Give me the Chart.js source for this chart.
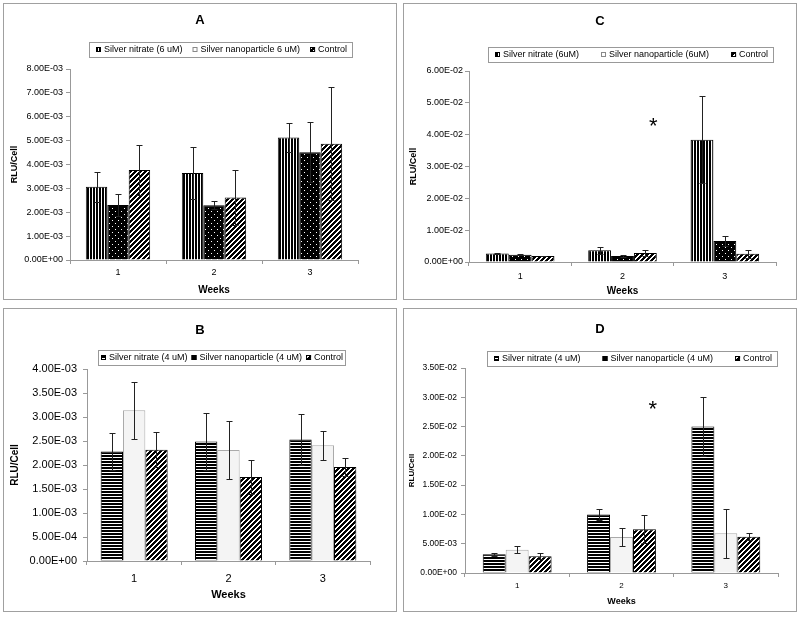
<!DOCTYPE html>
<html>
<head>
<meta charset="utf-8">
<script src="https://cdn.jsdelivr.net/npm/chart.js@4/dist/chart.umd.min.js"></script>
<style>
  body { margin: 0; background: #fff; width: 800px; height: 617px; position: relative; overflow: hidden; }
  canvas { position: absolute; }
</style>
</head>
<body>
<canvas id="pA" width="400" height="305" style="left:0;top:0"></canvas>
<canvas id="pC" width="400" height="305" style="left:400px;top:0"></canvas>
<canvas id="pB" width="400" height="312" style="left:0;top:305px"></canvas>
<canvas id="pD" width="400" height="312" style="left:400px;top:305px"></canvas>
<script>
const weeks = ['1', '2', '3'];

// A - 6 uM
const nitrateA = [3.07e-3, 3.64e-3, 5.13e-3];
const nitrateErrA = [0.63e-3, 1.09e-3, 0.60e-3];
const nanoA = [2.30e-3, 2.29e-3, 4.51e-3];
const nanoErrA = [0.46e-3, 0.17e-3, 1.25e-3];
const controlA = [3.77e-3, 2.62e-3, 4.87e-3];
const controlErrA = [1.03e-3, 1.16e-3, 2.37e-3];
const yLabelsA = ['0.00E+00', '1.00E-03', '2.00E-03', '3.00E-03', '4.00E-03', '5.00E-03', '6.00E-03', '7.00E-03', '8.00E-03'];

// B - 4 uM
const nitrateB = [2.28e-3, 2.49e-3, 2.53e-3];
const nitrateErrB = [0.38e-3, 0.60e-3, 0.53e-3];
const nanoB = [3.14e-3, 2.31e-3, 2.41e-3];
const nanoErrB = [0.59e-3, 0.61e-3, 0.30e-3];
const controlB = [2.32e-3, 1.75e-3, 1.96e-3];
const controlErrB = [0.36e-3, 0.36e-3, 0.18e-3];
const yLabelsB = ['0.00E+00', '5.00E-04', '1.00E-03', '1.50E-03', '2.00E-03', '2.50E-03', '3.00E-03', '3.50E-03', '4.00E-03'];

// C - 6uM
const nitrateC = [2.7e-3, 3.7e-3, 3.84e-2];
const nitrateErrC = [0.15e-3, 1.1e-3, 1.37e-2];
const nanoC = [2.3e-3, 1.9e-3, 6.6e-3];
const nanoErrC = [0.15e-3, 0.25e-3, 1.7e-3];
const controlC = [1.9e-3, 2.8e-3, 2.6e-3];
const controlErrC = [0.1e-3, 0.9e-3, 1.3e-3];
const yLabelsC = ['0.00E+00', '1.00E-02', '2.00E-02', '3.00E-02', '4.00E-02', '5.00E-02', '6.00E-02'];

// D - 4 uM
const nitrateD = [3.18e-3, 1.0e-2, 2.50e-2];
const nitrateErrD = [0.2e-3, 0.95e-3, 5.0e-3];
const nanoD = [3.95e-3, 6.13e-3, 6.8e-3];
const nanoErrD = [0.6e-3, 1.6e-3, 4.2e-3];
const controlD = [2.84e-3, 7.49e-3, 6.2e-3];
const controlErrD = [0.5e-3, 2.44e-3, 0.6e-3];
const yLabelsD = ['0.00E+00', '5.00E-03', '1.00E-02', '1.50E-02', '2.00E-02', '2.50E-02', '3.00E-02', '3.50E-02'];

// significance star, in (category index, value)
const starC = [1.3, 0.0446];
const starD = [1.3, 0.0289];

const FONT = 'Liberation Sans, Arial, sans-serif';
Chart.defaults.font.family = FONT;
Chart.defaults.color = '#000';

// black/white fill patterns like the old excel ones
function tile(w, h, isBlack) {
  const c = document.createElement('canvas');
  c.width = w; c.height = h;
  const g = c.getContext('2d');
  const img = g.createImageData(w, h);
  for (let y = 0; y < h; y++) {
    for (let x = 0; x < w; x++) {
      const k = (y * w + x) * 4, v = isBlack(x, y) ? 0 : 255;
      img.data[k] = img.data[k + 1] = img.data[k + 2] = v;
      img.data[k + 3] = 255;
    }
  }
  g.putImageData(img, 0, 0);
  return g.createPattern(c, 'repeat');
}
const vert = tile(3, 1, x => x < 2);
const horiz = tile(1, 3, (x, y) => y < 2);
const dots = tile(6, 6, (x, y) => !((x === 1 && y === 1) || (x === 4 && y === 4)));
const diag = tile(5, 5, (x, y) => (x + y) % 5 < 3);
const light = '#f4f4f4';

function decor(p) {
  return {
    id: 'decor',
    beforeDraw(chart) {
      const ctx = chart.ctx;
      ctx.save();
      ctx.fillStyle = '#fff';
      ctx.fillRect(0, 0, chart.width, chart.height);
      ctx.strokeStyle = '#a0a0a0';
      ctx.lineWidth = 1;
      ctx.strokeRect(3.5, 3.5, 393, chart.height - 9);
      // panel letter
      ctx.fillStyle = '#000';
      ctx.font = 'bold 13px ' + FONT;
      ctx.textAlign = 'center';
      ctx.textBaseline = 'middle';
      ctx.fillText(p.title, 200, p.titleY);
      // legend
      const lg = p.legend;
      ctx.font = lg.size + 'px ' + FONT;
      const widths = p.names.map(n => ctx.measureText(n).width);
      let total = lg.padL + lg.padR + lg.gap * (widths.length - 1);
      widths.forEach(w => { total += 8 + w; });
      const left = Math.round(lg.cx - total / 2);
      ctx.strokeStyle = '#999';
      ctx.strokeRect(left + 0.5, Math.round(lg.cy - 7.5) + 0.5, Math.round(total), 15);
      let x = left + lg.padL;
      ctx.textAlign = 'left';
      p.names.forEach((n, i) => {
        ctx.fillStyle = lg.swatch[i];
        ctx.fillRect(x, Math.round(lg.cy - 2.5), 5, 5);
        ctx.strokeStyle = lg.edge[i];
        ctx.strokeRect(x + 0.5, Math.round(lg.cy - 2.5) + 0.5, 4, 4);
        ctx.fillStyle = '#000';
        ctx.fillText(n, x + 8, lg.cy + 0.5);
        x += 8 + widths[i] + lg.gap;
      });
      ctx.restore();
    },
    afterDatasetsDraw(chart) {
      const ctx = chart.ctx, ys = chart.scales.y, xs = chart.scales.x;
      ctx.save();
      ctx.strokeStyle = '#222';
      ctx.lineWidth = 1;
      chart.data.datasets.forEach((ds, i) => {
        chart.getDatasetMeta(i).data.forEach((bar, j) => {
          const v = ds.data[j], e = ds.errors[j];
          const cx = Math.round(bar.x) + 0.5;
          const top = Math.round(ys.getPixelForValue(v + e)) + 0.5;
          const bot = Math.round(ys.getPixelForValue(Math.max(v - e, 0))) + 0.5;
          ctx.beginPath();
          ctx.moveTo(cx, top); ctx.lineTo(cx, bot);
          ctx.moveTo(cx - 3, top); ctx.lineTo(cx + 3, top);
          ctx.moveTo(cx - 3, bot); ctx.lineTo(cx + 3, bot);
          ctx.stroke();
        });
      });
      if (p.star) {
        const fs = 22;
        ctx.fillStyle = '#000';
        ctx.font = fs + 'px ' + FONT;
        ctx.textAlign = 'center';
        ctx.textBaseline = 'alphabetic';
        ctx.fillText('*', xs.getPixelForValue(p.star[0]), ys.getPixelForValue(p.star[1]) + fs * 0.57);
      }
      ctx.restore();
    }
  };
}

function panel(id, p) {
  const a = p.area;
  new Chart(document.getElementById(id), {
    type: 'bar',
    data: {
      labels: weeks,
      datasets: p.series.map((s, i) => ({
        label: p.names[i],
        data: s.data,
        errors: s.err,
        backgroundColor: s.fill,
        borderColor: s.edge,
        borderWidth: 1,
        barPercentage: 1,
        categoryPercentage: p.cat
      }))
    },
    options: {
      responsive: false,
      animation: false,
      events: [],
      layout: { padding: { left: a.pl, right: p.w - a.r, top: a.t, bottom: p.h - a.b - a.xh } },
      plugins: { legend: { display: false }, title: { display: false }, tooltip: { enabled: false } },
      scales: {
        x: {
          grid: { display: true, drawOnChartArea: false, tickLength: 4, color: '#999' },
          border: { color: '#999' },
          ticks: { font: { size: p.f.xt }, padding: p.f.xpad, maxRotation: 0 },
          title: { display: true, text: 'Weeks', font: { size: p.f.xtitle, weight: 'bold' }, padding: 0 },
          afterFit: s => { s.height = a.xh; }
        },
        y: {
          min: 0, max: p.yMax,
          grid: { display: true, drawOnChartArea: false, tickLength: 4, color: '#999' },
          border: { color: '#999' },
          ticks: { stepSize: p.yStep, font: { size: p.f.yt }, padding: p.f.ypad, callback: (v, i) => p.yLabels[i] },
          title: { display: true, text: 'RLU/Cell', font: { size: p.f.ytitle, weight: 'bold' }, padding: 0 },
          afterFit: s => { s.width = a.l - a.pl; }
        }
      }
    },
    plugins: [decor(p)]
  });
}

panel('pA', {
  title: 'A', titleY: 20, w: 400, h: 305, cat: 0.67,
  area: { pl: 9, l: 70, r: 358, t: 69, b: 260, xh: 36 },
  f: { xt: 9, xpad: 3, xtitle: 10, yt: 9, ypad: 3, ytitle: 9 },
  yMax: 8e-3, yStep: 1e-3, yLabels: yLabelsA,
  names: ['Silver nitrate (6 uM)', 'Silver nanoparticle 6 uM)', 'Control'],
  legend: { cx: 220.5, cy: 49.5, size: 9, gap: 10, padL: 7, padR: 5, swatch: [vert, '#fff', diag], edge: ['#000', '#888', '#000'] },
  series: [
    { data: nitrateA, err: nitrateErrA, fill: vert, edge: '#000' },
    { data: nanoA, err: nanoErrA, fill: dots, edge: '#000' },
    { data: controlA, err: controlErrA, fill: diag, edge: '#000' }
  ]
});

panel('pC', {
  title: 'C', titleY: 21, w: 400, h: 305, cat: 0.67,
  area: { pl: 8, l: 69, r: 376, t: 71, b: 262, xh: 35 },
  f: { xt: 9, xpad: 5, xtitle: 10, yt: 9, ypad: 2, ytitle: 9 },
  yMax: 6e-2, yStep: 1e-2, yLabels: yLabelsC,
  names: ['Silver nitrate (6uM)', 'Silver nanoparticle (6uM)', 'Control'],
  legend: { cx: 231, cy: 54.5, size: 9, gap: 22, padL: 7, padR: 5, swatch: [vert, '#fff', diag], edge: ['#000', '#888', '#000'] },
  series: [
    { data: nitrateC, err: nitrateErrC, fill: vert, edge: '#000' },
    { data: nanoC, err: nanoErrC, fill: dots, edge: '#000' },
    { data: controlC, err: controlErrC, fill: diag, edge: '#000' }
  ],
  star: starC
});

panel('pB', {
  title: 'B', titleY: 25, w: 400, h: 312, cat: 0.71,
  area: { pl: 9, l: 87, r: 370, t: 64, b: 256, xh: 41 },
  f: { xt: 11, xpad: 7, xtitle: 11, yt: 11, ypad: 6, ytitle: 10 },
  yMax: 4e-3, yStep: 5e-4, yLabels: yLabelsB,
  names: ['Silver nitrate (4 uM)', 'Silver nanoparticle (4 uM)', 'Control'],
  legend: { cx: 221.5, cy: 52.5, size: 9, gap: 4, padL: 3, padR: 2, swatch: [horiz, '#000', diag], edge: ['#000', '#000', '#000'] },
  series: [
    { data: nitrateB, err: nitrateErrB, fill: horiz, edge: '#000' },
    { data: nanoB, err: nanoErrB, fill: light, edge: '#aaa' },
    { data: controlB, err: controlErrB, fill: diag, edge: '#000' }
  ]
});

panel('pD', {
  title: 'D', titleY: 24, w: 400, h: 312, cat: 0.66,
  area: { pl: 7, l: 65, r: 378, t: 63, b: 268, xh: 34 },
  f: { xt: 8, xpad: 4, xtitle: 9, yt: 8.5, ypad: 4, ytitle: 8 },
  yMax: 3.5e-2, yStep: 5e-3, yLabels: yLabelsD,
  names: ['Silver nitrate (4 uM)', 'Silver nanoparticle (4 uM)', 'Control'],
  legend: { cx: 232.5, cy: 53, size: 9, gap: 22, padL: 7, padR: 5, swatch: [horiz, '#000', diag], edge: ['#000', '#000', '#000'] },
  series: [
    { data: nitrateD, err: nitrateErrD, fill: horiz, edge: '#000' },
    { data: nanoD, err: nanoErrD, fill: light, edge: '#aaa' },
    { data: controlD, err: controlErrD, fill: diag, edge: '#000' }
  ],
  star: starD
});
</script>
</body>
</html>
